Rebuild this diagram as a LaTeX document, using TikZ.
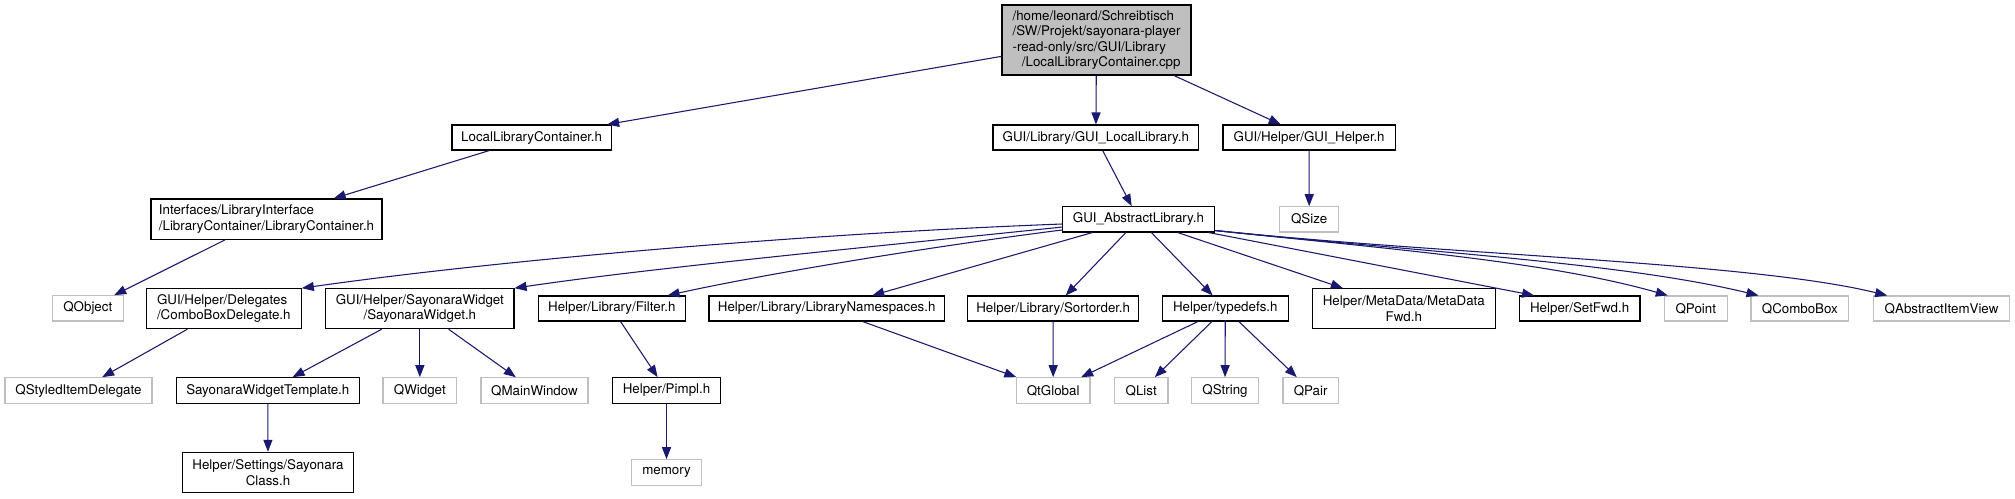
\documentclass[tikz,border=0pt]{standalone}
\usepackage{fontspec}
\setmainfont{TeX Gyre Heros}
\usepackage{calc}
\usetikzlibrary{arrows.meta}
\definecolor{edgeblue}{HTML}{191970}
\definecolor{extgray}{HTML}{BFBFBF}
\newcommand{\mybox}[7]{%
 \pgfmathsetmacro\mbw{(#5-#3)*0.75}%
 \pgfmathsetmacro\mbh{(#6-#4)*0.75}%
 \pgfmathsetmacro\mcx{(#3+#5)/2}%
 \pgfmathsetmacro\mcy{(#4+#6)/2}%
 \node[#2,minimum width=\mbw pt,minimum height=\mbh pt] (#1) at (\mcx,\mcy) {#7};}
\begin{document}
\begin{tikzpicture}[x=0.75pt,y=-0.75pt,
  every node/.style={inner sep=1pt,font=\fontsize{10}{11.5}\selectfont,align=center},
  realnode/.style={draw=black,fill=white,line width=0.8pt},
  extnode/.style={draw=extgray,fill=white,line width=0.8pt},
  rootnode/.style={draw=black,fill=extgray,line width=0.8pt},
  dep/.style={draw=edgeblue,line width=0.8pt,-{Triangle[length=9pt,width=6.8pt]}}]
\useasboundingbox[fill=white] (0,0) rectangle (2015,499);
% nodes
\mybox{root}{rootnode}{1002}{5}{1191}{75}{\makebox[\widthof{/SW/Projekt/sayonara-player}][l]{/home/leonard/Schreibtisch}\\/SW/Projekt/sayonara-player\\\makebox[\widthof{/SW/Projekt/sayonara-player}][l]{-read-only/src/GUI/Library}\\\makebox[\widthof{/SW/Projekt/sayonara-player}][l]{\hspace*{7pt}/LocalLibraryContainer.cpp}}
\mybox{llc}{realnode}{452}{125}{611.3}{150}{LocalLibraryContainer.h}
\mybox{gll}{realnode}{993}{125}{1198.7}{150}{GUI/Library/GUI\_LocalLibrary.h}
\mybox{ghl}{realnode}{1223}{125}{1395.3}{150}{GUI/Helper/GUI\_Helper.h}
\mybox{ifc}{realnode}{151}{199}{382}{239.3}{\makebox[\widthof{/LibraryContainer/LibraryContainer.h}][l]{Interfaces/LibraryInterface}\\/LibraryContainer/LibraryContainer.h}
\mybox{gal}{realnode}{1062.3}{206.7}{1214.7}{232}{GUI\_AbstractLibrary.h}
\mybox{qsize}{extnode}{1279.7}{206.7}{1338.7}{232}{QSize}
\mybox{qobject}{extnode}{52.3}{295.7}{123.3}{321}{QObject}
\mybox{cbd}{realnode}{146.3}{288.7}{301.3}{328.7}{\makebox[\widthof{/ComboBoxDelegate.h}][l]{GUI/Helper/Delegates}\\/ComboBoxDelegate.h}
\mybox{sw}{realnode}{325.7}{288.7}{514}{328.7}{GUI/Helper/SayonaraWidget\\/SayonaraWidget.h}
\mybox{filter}{realnode}{538.3}{296}{685.3}{321}{Helper/Library/Filter.h}
\mybox{lns}{realnode}{709}{296}{944.3}{321}{Helper/Library/LibraryNamespaces.h}
\mybox{sort}{realnode}{967.7}{296}{1138.7}{321}{Helper/Library/Sortorder.h}
\mybox{typedefs}{realnode}{1162.3}{296}{1288.3}{321}{Helper/typedefs.h}
\mybox{mdf}{realnode}{1312.3}{288.7}{1495.3}{328.7}{Helper/MetaData/MetaData\\Fwd.h}
\mybox{setfwd}{realnode}{1519.3}{296}{1640}{321}{Helper/SetFwd.h}
\mybox{qpoint}{extnode}{1664.3}{296}{1727.3}{321}{QPoint}
\mybox{qcombo}{extnode}{1751}{296}{1848.7}{321}{QComboBox}
\mybox{qaiv}{extnode}{1873.3}{296}{2009.7}{321}{QAbstractItemView}
\mybox{qsid}{extnode}{5}{377.7}{152}{403.3}{QStyledItemDelegate}
\mybox{swt}{realnode}{176.3}{377.7}{359.3}{403.3}{SayonaraWidgetTemplate.h}
\mybox{qwidget}{extnode}{383}{377.7}{456.7}{403.3}{QWidget}
\mybox{qmw}{extnode}{481}{377.7}{588}{403.3}{QMainWindow}
\mybox{pimpl}{realnode}{612.3}{377.7}{720.7}{403.3}{Helper/Pimpl.h}
\mybox{qtglobal}{extnode}{1016.3}{377.7}{1090}{403.3}{QtGlobal}
\mybox{qlist}{extnode}{1114.3}{377.7}{1168}{403.3}{QList}
\mybox{qstring}{extnode}{1191.3}{377.7}{1258.7}{403.3}{QString}
\mybox{qpair}{extnode}{1283}{377.7}{1338.3}{403.3}{QPair}
\mybox{sclass}{realnode}{182.7}{452.3}{353.3}{492.7}{Helper/Settings/Sayonara\\Class.h}
\mybox{memory}{extnode}{631.7}{459.7}{701.3}{485.3}{memory}
% edges
\draw[dep] (root) -- (llc);
\draw[dep] (root) -- (gll);
\draw[dep] (root) -- (ghl);
\draw[dep] (llc) -- (ifc);
\draw[dep] (ifc) -- (qobject);
\draw[dep] (gll) -- (gal);
\draw[dep] (ghl) -- (qsize);
\draw[dep] ([yshift=-3.5pt]gal.west) .. controls (800,234) and (500,260) .. (cbd.north east);
\draw[dep] ([yshift=-5.8pt]gal.west) .. controls (880,246) and (650,268) .. (sw.north east);
\draw[dep] ([yshift=-8pt]gal.west) .. controls (920,248) and (760,275) .. ([xshift=-13.7pt]filter.north east);
\draw[dep] (gal) -- (lns);
\draw[dep] (gal) -- (sort);
\draw[dep] (gal) -- (typedefs);
\draw[dep] (gal) -- (mdf);
\draw[dep] ([xshift=-5pt]gal.south east) -- ([xshift=11.5pt]setfwd.north west);
\draw[dep] ([yshift=1.5pt]gal.south east) .. controls (1400,250) and (1550,262) .. ([xshift=3pt]qpoint.north west);
\draw[dep] ([yshift=1.5pt]gal.south east) .. controls (1420,252) and (1620,262) .. ([xshift=6pt]qcombo.north west);
\draw[dep] ([yshift=1.5pt]gal.south east) .. controls (1450,255) and (1750,262) .. ([xshift=10.8pt]qaiv.north west);
\draw[dep] (cbd) -- (qsid);
\draw[dep] (sw) -- (swt);
\draw[dep] (sw) -- (qwidget);
\draw[dep] (sw) -- (qmw);
\draw[dep] (swt) -- (sclass);
\draw[dep] (filter) -- (pimpl);
\draw[dep] (pimpl) -- (memory);
\draw[dep] (lns) -- (qtglobal);
\draw[dep] (sort) -- (qtglobal);
\draw[dep] (typedefs) -- (qtglobal);
\draw[dep] (typedefs) -- (qlist);
\draw[dep] (typedefs) -- (qstring);
\draw[dep] (typedefs) -- (qpair);
\end{tikzpicture}
\end{document}
